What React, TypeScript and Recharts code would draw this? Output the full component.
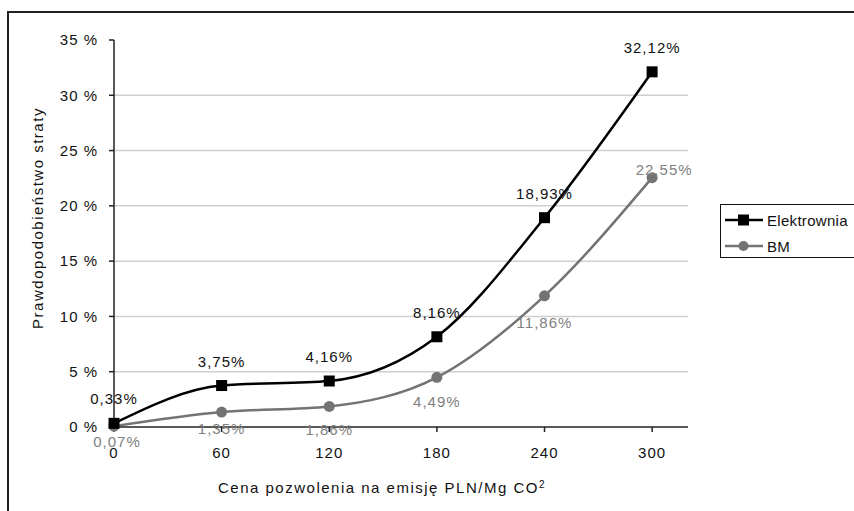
import React from 'react';
import { LineChart, Line, XAxis, YAxis, ReferenceLine, LabelList, Legend } from 'recharts';

// Price of emission allowance (PLN/Mg CO2) and loss probability (%)
const prices = [0, 60, 120, 180, 240, 300];
const elektrownia = [0.33, 3.75, 4.16, 8.16, 18.93, 32.12];
const bm = [0.07, 1.35, 1.86, 4.49, 11.86, 22.55];

const xTicks = [0, 60, 120, 180, 240, 300];
const yTicks = [0, 5, 10, 15, 20, 25, 30, 35];
const gridValues = [5, 10, 15, 20, 25, 30];

// hand-placed BM labels, like in the original sheet
const bmLabelDy = [21, 22, 29, 30, 32, -3];
const bmLabelDx = [3, 0, 0, 0, 0, 12];

const data = prices.map((p, i) => ({ price: p, elektrownia: elektrownia[i], bm: bm[i] }));

const FONT = '"Liberation Sans", Arial, sans-serif';
const BM_COLOR = '#737373';

const fmt = (v: number) => `${v.toFixed(2).replace('.', ',')}%`;

const SquareDot = (props: any) => {
  const { cx, cy, index } = props;
  if (cx == null || cy == null) return null;
  return <rect key={`sq-${index}`} x={cx - 5.5} y={cy - 5.5} width={11} height={11} fill="#000" />;
};

const RoundDot = (props: any) => {
  const { cx, cy, index } = props;
  if (cx == null || cy == null) return null;
  return <circle key={`rd-${index}`} cx={cx} cy={cy} r={5.5} fill={BM_COLOR} />;
};

const ElLabel = (props: any) => {
  const { x, y, value } = props;
  return (
    <text x={x} y={y - 19} textAnchor="middle" fontSize={15} letterSpacing={1} fontFamily={FONT} fill="#111">
      {fmt(value)}
    </text>
  );
};

const BmLabel = (props: any) => {
  const { x, y, value, index } = props;
  return (
    <text
      x={x + bmLabelDx[index]}
      y={y + bmLabelDy[index]}
      textAnchor="middle"
      fontSize={15}
      letterSpacing={1}
      fontFamily={FONT}
      fill="#808080"
    >
      {fmt(value)}
    </text>
  );
};

const LegendBox = () => (
  <div
    style={{
      border: '1.5px solid #111',
      width: 150,
      height: 54,
      boxSizing: 'border-box',
      fontFamily: FONT,
      fontSize: 15,
      letterSpacing: 0.3,
      position: 'relative',
    }}
  >
    {[
      { name: 'Elektrownia', color: '#000', square: true },
      { name: 'BM', color: BM_COLOR, square: false },
    ].map((it, i) => (
      <div key={it.name} style={{ position: 'absolute', left: 4, top: 6 + i * 26, display: 'flex', alignItems: 'center', height: 18 }}>
        <svg width={40} height={14}>
          <line x1={0} y1={7} x2={38} y2={7} stroke={it.color} strokeWidth={2.5} />
          {it.square ? (
            <rect x={13} y={1.5} width={11} height={11} fill={it.color} />
          ) : (
            <circle cx={18.5} cy={7} r={5} fill={it.color} />
          )}
        </svg>
        <span style={{ marginLeft: 2, color: '#111', whiteSpace: 'nowrap' }}>{it.name}</span>
      </div>
    ))}
  </div>
);

const YTitle = () => (
  <text
    x={37}
    y={218}
    transform="rotate(-90 37 218)"
    textAnchor="middle"
    dominantBaseline="central"
    fontSize={15}
    letterSpacing={1.5}
    fontFamily={FONT}
    fill="#111"
  >
    Prawdopodobieństwo straty
  </text>
);

const XTitle = () => (
  <text x={218} y={493} textAnchor="start" fontSize={15} letterSpacing={1.5} fontFamily={FONT} fill="#111">
    Cena pozwolenia na emisję PLN/Mg CO
    <tspan fontSize={10} dy={-5}>2</tspan>
  </text>
);

export default function App() {
  return (
    <div style={{ position: 'absolute', left: 0, top: 0, width: 854, height: 511, overflow: 'hidden', background: '#fff' }}>
      <div
        style={{
          position: 'absolute',
          left: 7,
          top: 11,
          width: 900,
          height: 600,
          border: '2px solid #222',
        }}
      />
      <LineChart
        width={854}
        height={511}
        data={data}
        margin={{ top: 40, right: 166, bottom: 44, left: 0 }}
        style={{ position: 'absolute', left: 0, top: 0 }}
      >
        {gridValues.map((v) => (
          <ReferenceLine key={v} y={v} stroke="#cfcfcf" strokeWidth={1.5} />
        ))}
        <XAxis
          dataKey="price"
          type="number"
          domain={[0, 320]}
          ticks={xTicks}
          height={40}
          tickSize={5}
          tickMargin={15}
          axisLine={{ stroke: '#222', strokeWidth: 1.5 }}
          tickLine={{ stroke: '#222', strokeWidth: 1.5 }}
          tick={{ fontSize: 15, fill: '#111', fontFamily: FONT, letterSpacing: 1 }}
          label={<XTitle />}
        />
        <YAxis
          type="number"
          domain={[0, 35]}
          ticks={yTicks}
          width={114}
          tickSize={5}
          tickMargin={11}
          tickFormatter={(v) => `${v} %`}
          axisLine={{ stroke: '#222', strokeWidth: 1.5 }}
          tickLine={{ stroke: '#222', strokeWidth: 1.5 }}
          tick={{ fontSize: 15, fill: '#111', fontFamily: FONT, letterSpacing: 1 }}
          label={<YTitle />}
        />
        <Legend
          layout="vertical"
          align="center"
          verticalAlign="middle"
          content={() => <LegendBox />}
          wrapperStyle={{ position: 'absolute', left: 720, top: 204, width: 150, height: 54 }}
        />
        <Line
          type="monotone"
          dataKey="bm"
          name="BM"
          stroke={BM_COLOR}
          strokeWidth={2.5}
          dot={RoundDot}
          isAnimationActive={false}
        >
          <LabelList dataKey="bm" content={BmLabel} />
        </Line>
        <Line
          type="monotone"
          dataKey="elektrownia"
          name="Elektrownia"
          stroke="#000"
          strokeWidth={2.5}
          dot={SquareDot}
          isAnimationActive={false}
        >
          <LabelList dataKey="elektrownia" content={ElLabel} />
        </Line>
      </LineChart>
    </div>
  );
}
